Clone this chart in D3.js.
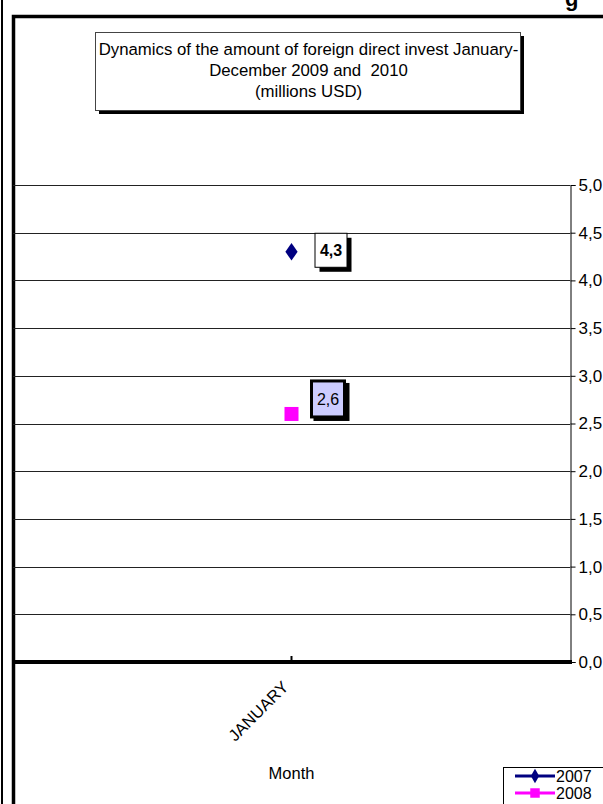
<!DOCTYPE html>
<html lang="en">

<head>
    <meta charset="UTF-8">
    <title>Foreign direct invest January-December</title>
    <script src="https://d3js.org/d3.v7.min.js"></script>
    <style>
        * {
            margin: 0;
            padding: 0;
        }

        body {
            background: #fff;
            overflow: hidden;
        }

        text {
            font-family: "Liberation Sans", Arial, sans-serif;
        }
    </style>
</head>

<body>
    <script>
        var width = 603;
        var height = 804;

        // data
        var months = ['JANUARY'];
        var seriesNames = ['2007', '2008'];
        var values2007 = [4.3];
        var values2008 = [2.6];
        var yTicks = [0, 0.5, 1, 1.5, 2, 2.5, 3, 3.5, 4, 4.5, 5];
        var titleLines = ['Dynamics of the amount of foreign direct invest January-', 'December 2009 and  2010', '(millions USD)'];

        var colors = ['#000080', '#ff00ff'];

        // plot area (note: "top" is taken by window.top, so use other names)
        var plotLeft = 13, plotRight = 570, plotTop = 185, plotBottom = 662;

        var svg = d3.select('body')
            .append('svg')
            .attr('width', width)
            .attr('height', height);

        var xScale = d3.scalePoint()
            .domain(months)
            .range([plotLeft, plotRight])
            .padding(0.5);

        var yScale = d3.scaleLinear()
            .domain([0, 5])
            .range([plotBottom, plotTop]);

        function comma(d) {
            return d3.format('.1f')(d).replace('.', ',');
        }

        // page bits around the chart
        svg.append('line')
            .attr('x1', 2).attr('x2', 2)
            .attr('y1', 0).attr('y2', height)
            .attr('stroke', 'black').attr('stroke-width', 2);

        svg.append('text')
            .attr('x', 565).attr('y', 6)
            .attr('font-size', 22).attr('font-weight', 'bold')
            .text('g');

        // chart frame (cropped on right and bottom)
        svg.append('path')
            .attr('d', 'M13.5,' + height + ' V16.5 H' + width)
            .attr('fill', 'none')
            .attr('stroke', 'black')
            .attr('stroke-width', 3.5);

        // gridlines
        svg.append('g')
            .selectAll('line')
            .data(yTicks.filter(function (d) { return d > 0; }))
            .enter()
            .append('line')
            .attr('x1', plotLeft)
            .attr('x2', plotRight)
            .attr('y1', function (d) { return Math.round(yScale(d)) + 0.5; })
            .attr('y2', function (d) { return Math.round(yScale(d)) + 0.5; })
            .attr('stroke', '#222')
            .attr('stroke-width', 1);

        // right value axis
        var yAxis = d3.axisRight(yScale)
            .tickValues(yTicks)
            .tickFormat(comma)
            .tickSize(5)
            .tickPadding(3);

        var yG = svg.append('g')
            .attr('transform', 'translate(' + (plotRight + 0.5) + ',0)')
            .call(yAxis);
        yG.selectAll('text')
            .attr('font-size', 17)
            .attr('fill', 'black')
            .style('font-family', '"Liberation Sans", Arial, sans-serif');
        yG.selectAll('line, path').attr('stroke', 'black');

        // category axis
        svg.append('line')
            .attr('x1', plotLeft).attr('x2', plotRight + 2)
            .attr('y1', plotBottom).attr('y2', plotBottom)
            .attr('stroke', 'black')
            .attr('stroke-width', 4);

        svg.selectAll('.xtick')
            .data(months)
            .enter()
            .append('line')
            .attr('class', 'xtick')
            .attr('x1', function (d) { return xScale(d); })
            .attr('x2', function (d) { return xScale(d); })
            .attr('y1', plotBottom).attr('y2', plotBottom - 6)
            .attr('stroke', 'black').attr('stroke-width', 2);

        svg.selectAll('.xlabel')
            .data(months)
            .enter()
            .append('text')
            .attr('class', 'xlabel')
            .attr('transform', function (d) {
                return 'translate(' + (xScale(d) - 2) + ',' + (plotBottom + 26) + ') rotate(-45)';
            })
            .attr('text-anchor', 'end')
            .attr('font-size', 16.5)
            .text(function (d) { return d; });

        svg.append('text')
            .attr('x', xScale(months[0]))
            .attr('y', 779)
            .attr('text-anchor', 'middle')
            .attr('font-size', 16.5)
            .text('Month');

        // title box with shadow
        var tb = { x: 95, y: 32, w: 425, h: 78 };
        svg.append('rect')
            .attr('x', tb.x + 4).attr('y', tb.y + 4)
            .attr('width', tb.w).attr('height', tb.h)
            .attr('fill', 'black');
        svg.append('rect')
            .attr('x', tb.x + 0.5).attr('y', tb.y + 0.5)
            .attr('width', tb.w).attr('height', tb.h)
            .attr('fill', 'white')
            .attr('stroke', '#444');
        svg.selectAll('.title')
            .data(titleLines)
            .enter()
            .append('text')
            .attr('class', 'title')
            .attr('x', tb.x + tb.w / 2 + 1)
            .attr('y', function (d, i) { return 55 + i * 21; })
            .attr('text-anchor', 'middle')
            .attr('font-size', 16.8)
            .style('white-space', 'pre')
            .text(function (d) { return d; });

        // points
        svg.selectAll('.p2007')
            .data(values2007)
            .enter()
            .append('path')
            .attr('class', 'p2007')
            .attr('d', d3.symbol().type(d3.symbolDiamond).size(90))
            .attr('transform', function (d, i) {
                return 'translate(' + xScale(months[i]) + ',' + yScale(d) + ') scale(1.2,1)';
            })
            .attr('fill', colors[0]);

        svg.selectAll('.p2008')
            .data(values2008)
            .enter()
            .append('rect')
            .attr('class', 'p2008')
            .attr('x', function (d, i) { return xScale(months[i]) - 7; })
            .attr('y', function (d) { return yScale(d) - 7; })
            .attr('width', 14).attr('height', 14)
            .attr('fill', colors[1]);

        // data labels
        var lab07 = svg.selectAll('.l2007')
            .data(values2007)
            .enter()
            .append('g')
            .attr('class', 'l2007')
            .attr('transform', function (d, i) {
                return 'translate(' + (xScale(months[i]) + 23) + ',' + (yScale(d) - 19) + ')';
            });
        lab07.append('rect')
            .attr('x', 5).attr('y', 5).attr('width', 32).attr('height', 34)
            .attr('fill', 'black');
        lab07.append('rect')
            .attr('x', 0.5).attr('y', 0.5).attr('width', 32).attr('height', 34)
            .attr('fill', 'white').attr('stroke', 'black');
        lab07.append('text')
            .attr('x', 16.5).attr('y', 23)
            .attr('text-anchor', 'middle')
            .attr('font-size', 16).attr('font-weight', 'bold')
            .text(function (d) { return String(d).replace('.', ','); });

        var lab08 = svg.selectAll('.l2008')
            .data(values2008)
            .enter()
            .append('g')
            .attr('class', 'l2008')
            .attr('transform', function (d, i) {
                return 'translate(' + (xScale(months[i]) + 18) + ',' + (yScale(d) - 35) + ')';
            });
        lab08.append('rect')
            .attr('x', 4).attr('y', 4).attr('width', 36).attr('height', 38)
            .attr('fill', 'black');
        lab08.append('rect')
            .attr('x', 2).attr('y', 2).attr('width', 33).attr('height', 36)
            .attr('fill', '#ccccff').attr('stroke', 'black').attr('stroke-width', 3);
        lab08.append('text')
            .attr('x', 18.5).attr('y', 26)
            .attr('text-anchor', 'middle')
            .attr('font-size', 16)
            .text(function (d) { return String(d).replace('.', ','); });

        // legend (cropped)
        svg.append('rect')
            .attr('x', 503.5).attr('y', 767.5)
            .attr('width', 120).attr('height', 60)
            .attr('fill', 'white').attr('stroke', 'black');

        var leg = svg.selectAll('.leg')
            .data(seriesNames)
            .enter()
            .append('g')
            .attr('class', 'leg')
            .attr('transform', function (d, i) { return 'translate(515,' + (776 + i * 17) + ')'; });
        leg.append('line')
            .attr('x1', 0).attr('x2', 40)
            .attr('stroke', function (d, i) { return colors[i]; })
            .attr('stroke-width', 3);
        leg.append('path')
            .attr('d', function (d, i) {
                return d3.symbol().type(i === 0 ? d3.symbolDiamond : d3.symbolSquare).size(i === 0 ? 60 : 90)();
            })
            .attr('transform', 'translate(20,0)')
            .attr('fill', function (d, i) { return colors[i]; });
        leg.append('text')
            .attr('x', 41).attr('y', 6)
            .attr('font-size', 16)
            .text(function (d) { return d; });
    </script>

</body>

</html>
